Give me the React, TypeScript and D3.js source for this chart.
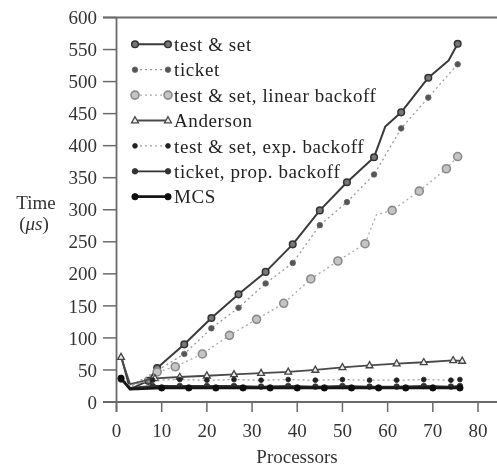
import React from "react";
import * as d3 from "d3";

const W = 497, H = 467;

// ---- data ----
const xTicks = [0, 10, 20, 30, 40, 50, 60, 70, 80];
const yTicks = [0, 50, 100, 150, 200, 250, 300, 350, 400, 450, 500, 550, 600];

const testSetX = [1, 3, 7, 9, 15, 21, 27, 33, 39, 45, 51, 57, 59.5, 63, 69, 73.5, 75.5];
const testSetY = [72, 20, 33, 53, 90, 131, 168, 203, 246, 299, 343, 382, 430, 452, 506, 533, 559];
const testSetM = [0, 0, 1, 1, 1, 1, 1, 1, 1, 1, 1, 1, 0, 1, 1, 0, 1];

const ticketX = [1, 3, 9, 15, 21, 27, 33, 39, 45, 51, 57, 63, 69, 75.5];
const ticketY = [38, 24, 49, 75, 115, 147, 185, 217, 276, 312, 355, 427, 475, 527];
const ticketM = [0, 0, 1, 1, 1, 1, 1, 1, 1, 1, 1, 1, 1, 1];

const linBackX = [1, 3, 9, 13, 19, 25, 31, 37, 43, 49, 55, 57.5, 61, 67, 73, 75.5];
const linBackY = [36, 22, 47, 55, 75, 104, 129, 154, 192, 220, 247, 292, 299, 329, 364, 383];
const linBackM = [0, 0, 1, 1, 1, 1, 1, 1, 1, 1, 1, 0, 1, 1, 1, 1];

const andersonX = [1, 3, 8.5, 14, 20, 26, 32, 38, 44, 50, 56, 62, 68, 74.5, 76.5];
const andersonY = [70, 28, 37, 39, 41, 43, 45, 47, 50, 54, 57, 60, 62, 65, 64];
const andersonM = [1, 0, 1, 1, 1, 1, 1, 1, 1, 1, 1, 1, 1, 1, 1];

const expBackX = [1, 3, 8, 14, 20, 26, 32, 38, 44, 50, 56, 62, 68, 74, 76];
const expBackY = [38, 26, 34, 35, 34, 35, 34, 35, 34, 35, 34, 34, 35, 34, 35];
const expBackM = [1, 0, 1, 1, 1, 1, 1, 1, 1, 1, 1, 1, 1, 1, 1];

const propBackX = [1, 3, 8, 14, 20, 26, 32, 38, 44, 50, 56, 62, 68, 74, 76];
const propBackY = [35, 22, 25, 25, 25, 25, 24, 25, 24, 25, 24, 24, 25, 24, 25];
const propBackM = [1, 0, 1, 1, 1, 1, 1, 1, 1, 1, 1, 1, 1, 1, 1];

const mcsX = [1, 3, 10, 16, 22, 28, 34, 40, 46, 52, 58, 64, 70, 76];
const mcsY = [37, 20, 22, 22, 22, 22, 22, 22, 22, 22, 22, 22, 22, 22];
const mcsM = [1, 0, 1, 1, 1, 1, 1, 1, 1, 1, 1, 1, 1, 1];

const legendLabels = [
  "test & set",
  "ticket",
  "test & set, linear backoff",
  "Anderson",
  "test & set, exp. backoff",
  "ticket, prop. backoff",
  "MCS",
];

type Style = {
  stroke: string; width: number; dash?: string;
  marker: "circle" | "dot" | "ring" | "tri";
  r: number; mfill: string; mstroke: string;
};

const styles: Style[] = [
  { stroke: "#3a3a3a", width: 2, marker: "circle", r: 3.3, mfill: "#777", mstroke: "#333" },
  { stroke: "#9a9a9a", width: 1.3, dash: "2,3", marker: "dot", r: 2.8, mfill: "#555", mstroke: "#666" },
  { stroke: "#aaa", width: 1.3, dash: "2,3", marker: "ring", r: 4, mfill: "#c4c4c4", mstroke: "#8a8a8a" },
  { stroke: "#4a4a4a", width: 1.8, marker: "tri", r: 3.8, mfill: "#eee", mstroke: "#444" },
  { stroke: "#a0a0a0", width: 1.3, dash: "2,3", marker: "dot", r: 2.4, mfill: "#222", mstroke: "#222" },
  { stroke: "#333", width: 1.8, marker: "dot", r: 2.8, mfill: "#333", mstroke: "#333" },
  { stroke: "#161616", width: 2.8, marker: "dot", r: 3.2, mfill: "#111", mstroke: "#111" },
];

const seriesData = [
  [testSetX, testSetY, testSetM],
  [ticketX, ticketY, ticketM],
  [linBackX, linBackY, linBackM],
  [andersonX, andersonY, andersonM],
  [expBackX, expBackY, expBackM],
  [propBackX, propBackY, propBackM],
  [mcsX, mcsY, mcsM],
];

const FONT = "'Liberation Serif', 'Times New Roman', serif";

function Marker({ s, x, y }: { s: Style; x: number; y: number }) {
  if (s.marker === "tri") {
    const r = s.r;
    const p = `M${x},${y - r} L${x + r * 0.9},${y + r * 0.6} L${x - r * 0.9},${y + r * 0.6} Z`;
    return <path d={p} fill={s.mfill} stroke={s.mstroke} strokeWidth={1.3} />;
  }
  return (
    <circle cx={x} cy={y} r={s.r} fill={s.mfill} stroke={s.mstroke}
      strokeWidth={s.marker === "ring" ? 1.6 : s.marker === "circle" ? 1.5 : 0.8} />
  );
}

export default function App() {
  const x = d3.scaleLinear().domain([0, 80]).range([116.5, 478]);
  const y = d3.scaleLinear().domain([0, 600]).range([402, 17.5]);
  const line = d3.line<[number, number]>().x(d => x(d[0])).y(d => y(d[1]));

  const axisColor = "#6a6a6a";
  const legX0 = 135, legX1 = 168, legTx = 174, legY0 = 44.3, legDy = 25.4;

  return (
    <svg width={W} height={H} style={{ position: "absolute", left: 0, top: 0, background: "#fff" }}
      fontFamily={FONT}>
      <defs>
        <filter id="soft" x="-5%" y="-5%" width="110%" height="110%">
          <feGaussianBlur stdDeviation="0.45" />
        </filter>
      </defs>
      <g filter="url(#soft)">
        {/* frame lines */}
        <line x1={103} x2={W} y1={y(600)} y2={y(600)} stroke={axisColor} strokeWidth={1.8} />
        <line x1={103} x2={W} y1={y(0)} y2={y(0)} stroke={axisColor} strokeWidth={1.8} />
        <line x1={x(0)} x2={x(0)} y1={y(600)} y2={y(0) + 10} stroke={axisColor} strokeWidth={1.8} />

        {/* y ticks */}
        {yTicks.map(t => (
          <g key={"y" + t}>
            <line x1={103} x2={x(0)} y1={y(t)} y2={y(t)} stroke={axisColor} strokeWidth={1.5} />
            <text x={97} y={y(t)} dy="0.35em" textAnchor="end" fontSize={19} fill="#333">{t}</text>
          </g>
        ))}
        {/* x ticks */}
        {xTicks.map(t => (
          <g key={"x" + t}>
            <line x1={x(t)} x2={x(t)} y1={y(0)} y2={y(0) + 10} stroke={axisColor} strokeWidth={1.5} />
            <text x={x(t)} y={430} dy="0.35em" textAnchor="middle" fontSize={19} fill="#333">{t}</text>
          </g>
        ))}

        <text x={297} y={456} dy="0.35em" textAnchor="middle" fontSize={19} fill="#333">Processors</text>
        <text x={36} y={202} dy="0.35em" textAnchor="middle" fontSize={19} fill="#333">Time</text>
        <text x={34} y={223} dy="0.35em" textAnchor="middle" fontSize={19} fill="#333">
          (<tspan fontStyle="italic">μs</tspan>)
        </text>

        {/* series */}
        {seriesData.map(([xs, ys, ms], i) => {
          const s = styles[i];
          const pts = xs.map((v, j) => [v, ys[j]] as [number, number]);
          return (
            <g key={"s" + i}>
              <path d={line(pts) || ""} fill="none" stroke={s.stroke} strokeWidth={s.width}
                strokeDasharray={s.dash} strokeLinejoin="round" />
              {pts.map((p, j) => ms[j] ? <Marker key={j} s={s} x={x(p[0])} y={y(p[1])} /> : null)}
            </g>
          );
        })}

        {/* legend */}
        {legendLabels.map((lab, i) => {
          const s = styles[i];
          const ly = legY0 + i * legDy;
          return (
            <g key={"l" + i}>
              <line x1={legX0} x2={legX1} y1={ly} y2={ly} stroke={s.stroke} strokeWidth={s.width}
                strokeDasharray={s.dash} />
              <Marker s={s} x={legX0} y={ly} />
              <Marker s={s} x={legX1} y={ly} />
              <text x={legTx} y={ly} dy="0.35em" fontSize={19} fill="#222" letterSpacing={0.6}>{lab}</text>
            </g>
          );
        })}
      </g>
    </svg>
  );
}
